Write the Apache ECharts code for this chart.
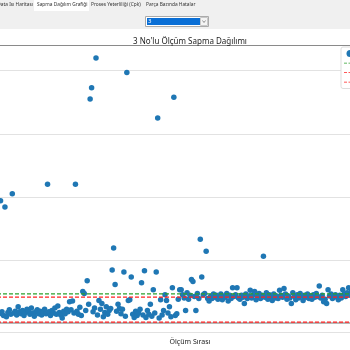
<!DOCTYPE html>
<html><head><meta charset="utf-8">
<script src="https://cdn.jsdelivr.net/npm/echarts@6/dist/echarts.min.js"></script>
<style>html,body{margin:0;padding:0;background:#fff;overflow:hidden;width:350px;height:350px;position:relative}#c{position:absolute;left:-45px;top:0;width:470px;height:350px}</style>
</head><body><div id="c"></div>
<script>
const chartTitle = "3 No'lu Ölçüm Sapma Dağılımı";
const xAxisName = "Ölçüm Sırası";
const tabs = ["Data Isı Haritası", "Sapma Dağılım Grafiği", "Proses Yeterliliği (Cpk)", "Parça Bazında Hatalar"];
const seriesNames = ["Ölçüm Sapması", "Ortalama", "Üst Kontrol Limiti", "Alt Kontrol Limiti"];
const firstIndex = 30;
const sapma = [
 0.15, 1.94, 0.18, 0.12, 1.84, 0.10, 0.17, 0.21, 0.14, 2.05,
 0.16, 0.19, 0.13, 0.26, 0.18, 0.15, 0.20, 0.12, 0.17, 0.22,
 0.19, 0.14, 0.24, 0.16, 0.11, 0.18, 0.21, 0.15, 0.19, 0.13,
 0.17, 0.22, 0.15, 2.20, 0.18, 0.12, 0.20, 0.16, 0.24, 0.14,
 0.27, 0.17, 0.13, 0.08, 0.19, 0.15, 0.22, 0.18, 0.34, 0.21,
 0.35, 0.16, 2.20, 0.19, 0.14, 0.25, 0.12, 0.50, 0.47, 0.20,
 0.67, 0.30, 3.55, 3.73, 0.18, 0.24, 4.20, 0.13, 0.36, 0.22,
 0.31, 0.10, 0.17, 0.26, 0.14, 0.20, 0.23, 0.84, 1.19, 0.61,
 0.19, 0.30, 0.23, 0.15, 0.22, 0.81, 0.11, 3.97, 0.36, 0.37,
 0.73, 0.14, 0.09, 0.19, 0.12, 0.16, 0.22, 0.64, 0.13, 0.83,
 0.09, 0.20, 0.14, 0.30, 0.11, 0.53, 0.16, 0.81, 3.25, 0.08,
 0.37, 0.13, 0.20, 0.45, 0.36, 0.16, 0.26, 0.10, 0.56, 3.58,
 0.12, 0.15, 0.38, 0.53, 0.53, 0.45, 0.40, 0.20, 0.48, 0.38,
 0.44, 0.69, 0.66, 0.42, 0.20, 0.47, 0.39, 1.33, 0.73, 0.45,
 0.47, 1.14, 0.39, 0.35, 0.42, 0.39, 0.46, 0.41, 0.44, 0.38,
 0.40, 0.46, 0.37, 0.43, 0.41, 0.47, 0.35, 0.44, 0.39, 0.56,
 0.42, 0.45, 0.56, 0.40, 0.38, 0.44, 0.41, 0.31, 0.46, 0.39,
 0.43, 0.52, 0.40, 0.45, 0.50, 0.37, 0.42, 0.47, 0.39, 0.44,
 1.06, 0.41, 0.48, 0.38, 0.45, 0.42, 0.36, 0.46, 0.40, 0.43,
 0.39, 0.52, 0.44, 0.41, 0.55, 0.46, 0.38, 0.43, 0.40, 0.31,
 0.48, 0.42, 0.37, 0.45, 0.40, 0.47, 0.43, 0.36, 0.44, 0.41,
 0.46, 0.39, 0.43, 0.38, 0.45, 0.41, 0.47, 0.42, 0.59, 0.40,
 0.44, 0.34, 0.38, 0.31, 0.53, 0.43, 0.46, 0.39, 0.42, 0.45,
 0.41, 0.37, 0.44, 0.40, 0.53, 0.46, 0.42, 0.48, 0.56, 0.44,
 0.50, 0.43, 0.47
];
const ortalama = 0.464;
const ustLimit = 0.411;
const altLimit = 0.016;
const xRange = [0, 320];
const yRange = [-0.1406, 4.406];

const OX = 45; // chart canvas is shifted 45px left of the page
const chart = echarts.init(document.getElementById('c'), null, {renderer: 'canvas'});
const pts = sapma.map((v, k) => [firstIndex + k, v]);
const hLine = v => [[xRange[0], v], [xRange[1], v]];
const FONT = 'Noto Sans';
const dashIcon = 'path://M0,0H4V1H0Z M6,0H10V1H6Z M12,0H16V1H12Z';
chart.setOption({
  animation: false,
  textStyle: {fontFamily: FONT},
  title: {text: chartTitle, left: 'center', top: 33,
    textStyle: {fontSize: 8, fontWeight: 'normal', color: '#222', fontFamily: FONT}},
  legend: {
    left: 341 + OX, top: 47, orient: 'vertical', padding: [3, 3], itemGap: 2.5,
    itemWidth: 12, itemHeight: 7, backgroundColor: '#fff', borderColor: '#ddd', borderWidth: 1, borderRadius: 2,
    textStyle: {fontSize: 7, color: '#222'},
    data: [
      {name: seriesNames[0], icon: 'circle'},
      {name: seriesNames[1], icon: dashIcon, itemStyle: {color: '#2ca02c'}},
      {name: seriesNames[2], icon: dashIcon, itemStyle: {color: '#ff2020'}},
      {name: seriesNames[3], icon: dashIcon, itemStyle: {color: '#ff2020'}}
    ]
  },
  grid: {left: 0, right: 0, top: 45, bottom: 14},
  xAxis: [{
    type: 'value', min: xRange[0], max: xRange[1], position: 'bottom',
    name: xAxisName, nameLocation: 'middle', nameGap: 6,
    nameTextStyle: {fontSize: 7, color: '#222'},
    axisLine: {show: true, lineStyle: {color: '#b8b8b8', width: 2}},
    axisTick: {show: false}, axisLabel: {show: false}, splitLine: {show: false}
  }, {
    type: 'value', min: xRange[0], max: xRange[1], position: 'top',
    axisLine: {show: true, lineStyle: {color: '#8a8a8a', width: 1}},
    axisTick: {show: false}, axisLabel: {show: false}, splitLine: {show: false}
  }],
  yAxis: {
    type: 'value', min: yRange[0], max: yRange[1], splitNumber: 5,
    axisLine: {show: false}, axisTick: {show: false}, axisLabel: {show: false},
    splitLine: {show: true, lineStyle: {color: '#e2e2e2', width: 1}}
  },
  series: [
    {name: seriesNames[0], type: 'scatter', data: pts, symbolSize: 5.5,
     itemStyle: {color: '#1f77b4', opacity: 1}, z: 2},
    {name: seriesNames[1], type: 'line', data: hLine(ortalama), showSymbol: false, symbol: 'none',
     lineStyle: {color: '#2ca02c', width: 1.3, type: [4, 2]}, itemStyle: {color: '#2ca02c'}, z: 3},
    {name: seriesNames[2], type: 'line', data: hLine(ustLimit), showSymbol: false, symbol: 'none',
     lineStyle: {color: '#ff2020', width: 1.3, type: [4, 2]}, itemStyle: {color: '#ff2020'}, z: 3},
    {name: seriesNames[3], type: 'line', data: hLine(altLimit), showSymbol: false, symbol: 'none',
     lineStyle: {color: '#ff2020', width: 1.3, type: [4, 2]}, itemStyle: {color: '#ff2020'}, z: 3}
  ],
  graphic: [
    {type: 'rect', shape: {x: 0, y: 0, width: 470, height: 29}, style: {fill: '#f0f0f0'}, z: 0},
    {type: 'rect', shape: {x: 34 + OX, y: 0, width: 55, height: 11}, style: {fill: '#ffffff'}, z: 1},
    {type: 'text', x: 33 + OX, y: 2, style: {text: tabs[0], align: 'right', fontSize: 4.8, fill: '#333', fontFamily: FONT}, z: 2},
    {type: 'text', x: 37 + OX, y: 2, style: {text: tabs[1], fontSize: 4.8, fill: '#333', fontFamily: FONT}, z: 2},
    {type: 'text', x: 91 + OX, y: 2, style: {text: tabs[2], fontSize: 4.8, fill: '#333', fontFamily: FONT}, z: 2},
    {type: 'text', x: 146 + OX, y: 2, style: {text: tabs[3], fontSize: 4.8, fill: '#333', fontFamily: FONT}, z: 2},
    {type: 'rect', shape: {x: 145.5 + OX, y: 16.5, width: 63, height: 10}, style: {fill: '#fff', stroke: '#aaa', lineWidth: 1}, z: 1},
    {type: 'rect', shape: {x: 147 + OX, y: 18, width: 53, height: 7}, style: {fill: '#0a6fd6'}, z: 2},
    {type: 'text', x: 148 + OX, y: 18, style: {text: '3', fontSize: 6, fill: '#fff', fontFamily: FONT}, z: 3},
    {type: 'rect', shape: {x: 200.5 + OX, y: 17.5, width: 7, height: 8}, style: {fill: '#f4f4f4', stroke: '#c8c8c8', lineWidth: 1}, z: 2},
    {type: 'polyline', shape: {points: [[202.5 + OX, 20.5], [204 + OX, 22.5], [205.5 + OX, 20.5]]}, style: {stroke: '#777', lineWidth: 0.8, fill: null}, z: 3}
  ]
});
</script></body></html>
